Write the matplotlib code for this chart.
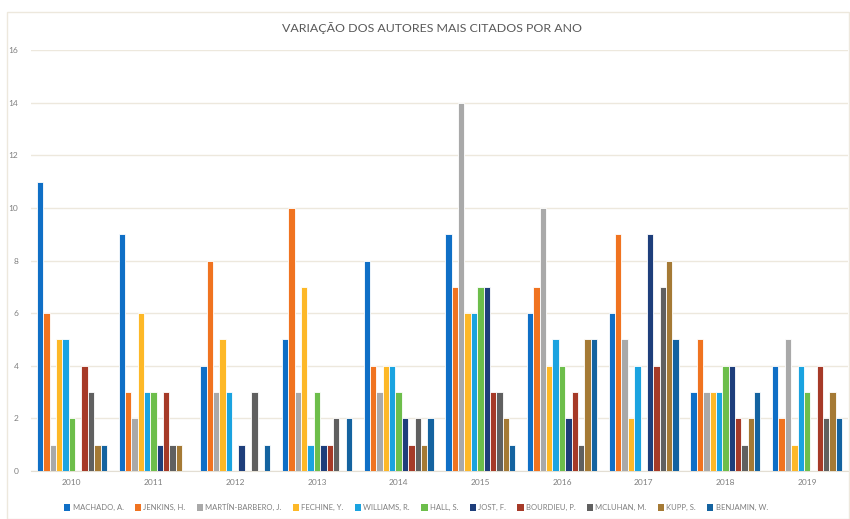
#!/usr/bin/env python3

import numpy as np
import matplotlib as mpl
mpl.use('Agg')
import matplotlib.pyplot as plt
from matplotlib.patches import Rectangle

years = ['2010', '2011', '2012', '2013', '2014', '2015', '2016', '2017', '2018', '2019']

authors = ['MACHADO, A.', 'JENKINS, H.', 'MARTÍN-BARBERO, J.', 'FECHINE, Y.', 'WILLIAMS, R.',
           'HALL, S.', 'JOST, F.', 'BOURDIEU, P.', 'MCLUHAN, M.', 'KUPP, S.', 'BENJAMIN, W.']

machado = [11, 9, 4, 5, 8, 9, 6, 6, 3, 4]
jenkins = [6, 3, 8, 10, 4, 7, 7, 9, 5, 2]
martin_barbero = [1, 2, 3, 3, 3, 14, 10, 5, 3, 5]
fechine = [5, 6, 5, 7, 4, 6, 4, 2, 3, 1]
williams = [5, 3, 3, 1, 4, 6, 5, 4, 3, 4]
hall = [2, 3, 0, 3, 3, 7, 4, 0, 4, 3]
jost = [0, 1, 1, 1, 2, 7, 2, 9, 4, 0]
bourdieu = [4, 3, 0, 1, 1, 3, 3, 4, 2, 4]
mcluhan = [3, 1, 3, 2, 2, 3, 1, 7, 1, 2]
kupp = [1, 1, 0, 0, 1, 2, 5, 8, 2, 3]
benjamin = [1, 0, 1, 2, 2, 1, 5, 5, 3, 2]

series = [machado, jenkins, martin_barbero, fechine, williams, hall,
          jost, bourdieu, mcluhan, kupp, benjamin]

colors = ['#0F6FC6', '#F07320', '#A9A9A9', '#FDB827', '#1AA3E0', '#6DBE4B',
          '#1E3E7B', '#A63A28', '#606060', '#A57A35', '#1463A0']

plt.rcParams['font.family'] = ['Lato', 'DejaVu Sans']

fig = plt.figure(figsize=(8.5, 5.19), dpi=100)
ax = fig.add_axes([31 / 850, 1 - 471 / 519, (848 - 31) / 850, (471 - 50) / 519])

x = np.arange(len(years))
w = 0.078
n = len(series)
for i, (vals, c, name) in enumerate(zip(series, colors, authors)):
    ax.bar(x + (i - (n - 1) / 2) * w, vals, width=w, color=c,
           edgecolor='white', linewidth=0.6, label=name, zorder=3)

ax.set_xlim(-0.5, len(years) - 0.5)
ax.set_ylim(0, 16)
ax.set_yticks(range(0, 17, 2))
ax.set_xticks(x)
ax.set_xticklabels(years)
ax.tick_params(axis='both', length=0, labelsize=6, labelcolor='#7F7F7F')
ax.tick_params(axis='y', pad=9)
ax.tick_params(axis='x', pad=6)
ax.grid(axis='y', color='#EDE8DD', linewidth=1, zorder=0)
for s in ['top', 'right', 'left']:
    ax.spines[s].set_visible(False)
ax.spines['bottom'].set_color('#E3DED3')

fig.text(432 / 850, 1 - 28 / 519, 'VARIAÇÃO DOS AUTORES MAIS CITADOS POR ANO',
         ha='center', va='center', fontsize=8.9, color='#595959')

leg = ax.legend(loc='center', bbox_to_anchor=(416 / 850, 1 - 507 / 519),
                bbox_transform=fig.transFigure, ncol=11, frameon=False, fontsize=5.5,
                handlelength=0.8, handleheight=0.9, handletextpad=0.3, columnspacing=1.5,
                labelcolor='#7F7F7F')
for h in leg.legend_handles:
    h.set_linewidth(0)

fig.patches.append(Rectangle((7 / 850, 0), 842 / 850, 1 - 12 / 519,
                             transform=fig.transFigure, fill=False,
                             edgecolor='#EDE8DD', linewidth=1))

plt.savefig('out.png')
plt.close()
